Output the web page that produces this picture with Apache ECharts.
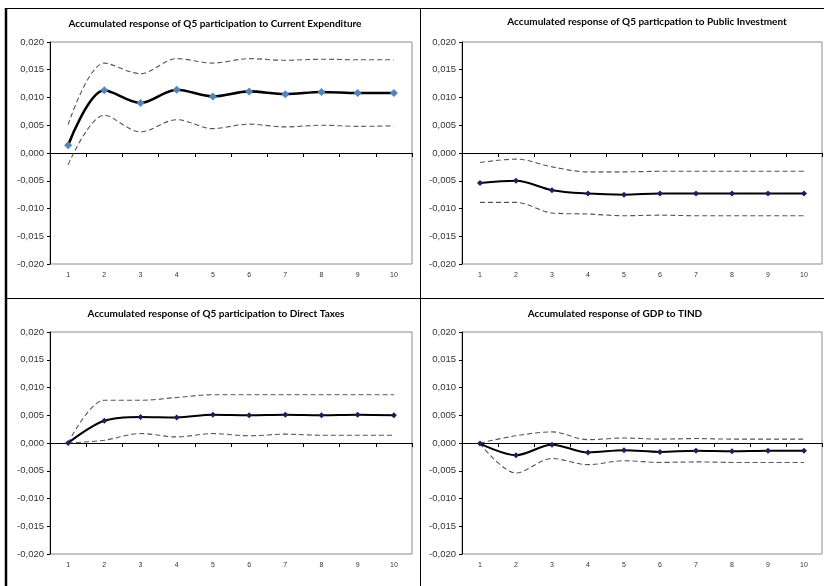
<!DOCTYPE html>
<html>
<head>
<meta charset="utf-8">
<script src="https://cdn.jsdelivr.net/npm/echarts@6/dist/echarts.min.js"></script>
<style>
html,body{margin:0;padding:0;background:#fff;}
#chart{width:824px;height:586px;}
</style>
</head>
<body>
<div id="chart"></div>
<script>
// ---- data ----
var periods = ['1','2','3','4','5','6','7','8','9','10'];
var yTicks = [-0.020, -0.015, -0.010, -0.005, 0.000, 0.005, 0.010, 0.015, 0.020];

var titles = [
  'Accumulated response of Q5 participation to Current Expenditure',
  'Accumulated response of Q5 particpation to Public Investment',
  'Accumulated response of Q5 participation to Direct Taxes',
  'Accumulated response of GDP to TIND'
];

// Panel 1: Current Expenditure
var ceMain  = [0.0014, 0.0113, 0.0090, 0.0114, 0.0102, 0.0111, 0.0106, 0.0110, 0.0108, 0.0108];
var ceUpper = [0.0051, 0.0162, 0.0143, 0.0170, 0.0162, 0.0170, 0.0167, 0.0169, 0.0168, 0.0168];
var ceLower = [-0.0021, 0.0068, 0.0038, 0.0060, 0.0044, 0.0052, 0.0047, 0.0050, 0.0048, 0.0049];

// Panel 2: Public Investment
var piMain  = [-0.0054, -0.0050, -0.0067, -0.0073, -0.0075, -0.0073, -0.0073, -0.0073, -0.0073, -0.0073];
var piUpper = [-0.0017, -0.0011, -0.0025, -0.0034, -0.0034, -0.0033, -0.0033, -0.0033, -0.0033, -0.0033];
var piLower = [-0.0089, -0.0089, -0.0108, -0.0110, -0.0113, -0.0112, -0.0113, -0.0113, -0.0113, -0.0113];

// Panel 3: Direct Taxes
var dtMain  = [0.0000, 0.0040, 0.0047, 0.0046, 0.0051, 0.0050, 0.0051, 0.0050, 0.0051, 0.0050];
var dtUpper = [0.0000, 0.0077, 0.0077, 0.0082, 0.0087, 0.0087, 0.0087, 0.0087, 0.0087, 0.0087];
var dtLower = [0.0000, 0.0005, 0.0017, 0.0011, 0.0017, 0.0013, 0.0016, 0.0014, 0.0014, 0.0014];

// Panel 4: GDP to TIND
var gdMain  = [-0.0001, -0.0022, -0.0003, -0.0017, -0.0013, -0.0016, -0.0014, -0.0015, -0.0014, -0.0014];
var gdUpper = [0.0000, 0.0013, 0.0020, 0.0006, 0.0009, 0.0007, 0.0008, 0.0007, 0.0007, 0.0007];
var gdLower = [-0.0001, -0.0054, -0.0028, -0.0039, -0.0032, -0.0035, -0.0034, -0.0035, -0.0035, -0.0035];

var panels = [
  {main: ceMain, upper: ceUpper, lower: ceLower},
  {main: piMain, upper: piUpper, lower: piLower},
  {main: dtMain, upper: dtUpper, lower: dtLower},
  {main: gdMain, upper: gdUpper, lower: gdLower}
];

// ---- layout / style ----
var gridPos = [
  {left: 50,  top: 42,  width: 362, height: 222},
  {left: 462, top: 42,  width: 360, height: 222},
  {left: 50,  top: 332, width: 362, height: 222},
  {left: 462, top: 332, width: 360, height: 222}
];
var titlePos = [[215, 24], [647, 22], [216, 314], [615, 314]];
var markerColors = ['#4a86c8', '#1c1c6b', '#1c1c6b', '#1c1c6b'];
var markerSizes = [8, 6, 6, 6];
var lineWidths = [2.6, 2, 2, 2];

function fmt(v) { return v.toFixed(3).replace('.', ','); }

var grids = [], xAxes = [], yAxes = [], series = [], graphics = [];
panels.forEach(function (p, k) {
  var g = gridPos[k];
  grids.push({left: g.left, top: g.top, width: g.width, height: g.height,
    show: true, borderColor: '#8c8c8c', borderWidth: 1, backgroundColor: 'transparent'});
  xAxes.push({
    gridIndex: k, type: 'category', data: periods, position: 'bottom',
    axisLine: {show: false, onZero: false},
    axisTick: {show: false},
    axisLabel: {fontSize: 7, color: '#333', margin: 8, fontFamily: 'Liberation Sans'},
    splitLine: {show: false}
  });
  xAxes.push({
    gridIndex: k, type: 'category', data: periods, position: 'bottom',
    axisLine: {show: true, onZero: true, lineStyle: {color: '#000', width: 1}},
    axisTick: {show: true, length: 4, lineStyle: {color: '#000'}},
    axisLabel: {show: false},
    splitLine: {show: false}
  });
  yAxes.push({
    gridIndex: k, type: 'value', min: yTicks[0], max: yTicks[yTicks.length - 1], interval: 0.005,
    axisLine: {show: true, lineStyle: {color: '#000', width: 1}},
    axisTick: {show: true, length: 3, lineStyle: {color: '#000'}},
    axisLabel: {fontSize: 9.5, color: '#333', margin: 6, fontFamily: 'Liberation Sans',
      formatter: function (v) { return fmt(v); }},
    splitLine: {show: false}
  });
  var dashStyle = {color: '#555', width: 1.1, type: [5, 3]};
  series.push({
    type: 'line', xAxisIndex: 2 * k, yAxisIndex: k, data: p.upper, smooth: 0.33,
    symbol: 'none', lineStyle: dashStyle, z: 2
  });
  series.push({
    type: 'line', xAxisIndex: 2 * k, yAxisIndex: k, data: p.lower, smooth: 0.33,
    symbol: 'none', lineStyle: dashStyle, z: 2
  });
  series.push({
    type: 'line', xAxisIndex: 2 * k, yAxisIndex: k, data: p.main, smooth: 0.33,
    symbol: 'diamond', symbolSize: markerSizes[k], showSymbol: true,
    itemStyle: {color: markerColors[k], borderWidth: 0},
    lineStyle: {color: '#000', width: lineWidths[k]}, z: 3
  });
  graphics.push({
    type: 'text', x: titlePos[k][0], y: titlePos[k][1],
    style: {text: titles[k], align: 'center', verticalAlign: 'middle',
      font: 'bold 10px Lato', fill: '#000'}
  });
});

// panel frames
graphics.push({type: 'line', shape: {x1: 6, y1: 8, x2: 6, y2: 586}, style: {stroke: '#000', lineWidth: 2.5}});
graphics.push({type: 'line', shape: {x1: 6, y1: 8.5, x2: 824, y2: 8.5}, style: {stroke: '#000', lineWidth: 1.2}});
graphics.push({type: 'line', shape: {x1: 420.5, y1: 8, x2: 420.5, y2: 586}, style: {stroke: '#000', lineWidth: 1}});
graphics.push({type: 'line', shape: {x1: 6, y1: 298.5, x2: 824, y2: 298.5}, style: {stroke: '#000', lineWidth: 1}});

var chart = echarts.init(document.getElementById('chart'), null, {renderer: 'canvas'});
chart.setOption({
  animation: false,
  backgroundColor: '#fff',
  grid: grids,
  xAxis: xAxes,
  yAxis: yAxes,
  series: series,
  graphic: graphics
});
</script>
</body>
</html>
